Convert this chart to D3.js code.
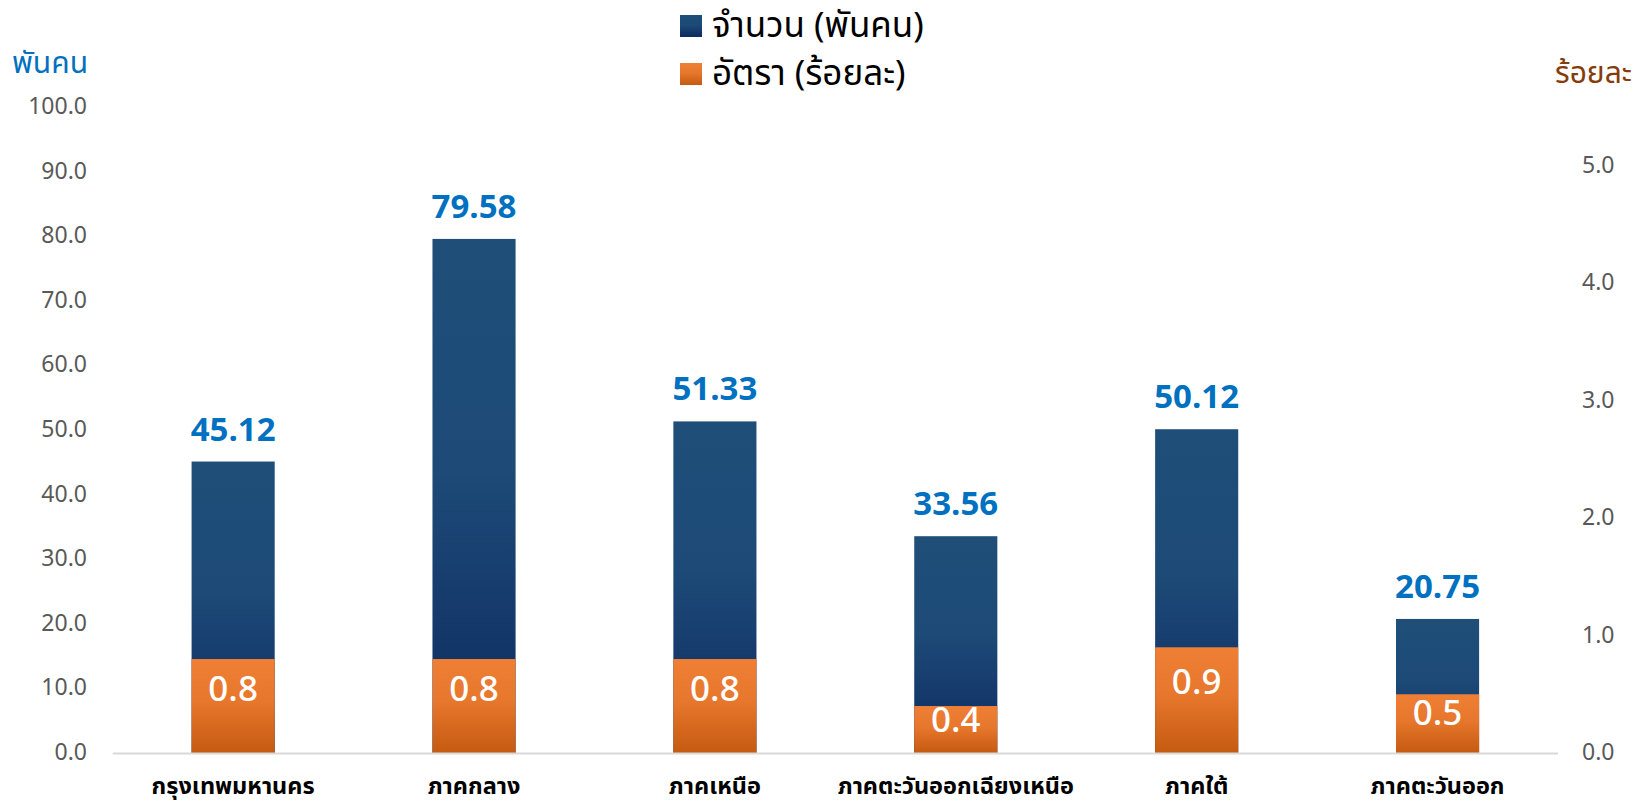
<!DOCTYPE html>
<html>
<head>
<meta charset="utf-8">
<script src="https://cdn.jsdelivr.net/npm/d3@7"></script>
<style>
  html, body { margin: 0; padding: 0; background: #fff; }
  svg { display: block; }
  text { font-family: "Noto Sans Thai", "Noto Sans", "Open Sans", sans-serif; }
</style>
</head>
<body>
<script>
const categories = ["กรุงเทพมหานคร", "ภาคกลาง", "ภาคเหนือ", "ภาคตะวันออกเฉียงเหนือ", "ภาคใต้", "ภาคตะวันออก"];
const counts = [45.12, 79.58, 51.33, 33.56, 50.12, 20.75];
const rates = [0.8, 0.8, 0.8, 0.4, 0.9, 0.5];
const leftTicks = [0, 10, 20, 30, 40, 50, 60, 70, 80, 90, 100];
const rightTicks = [0, 1, 2, 3, 4, 5];
const legendLabels = ["จำนวน (พันคน)", "อัตรา (ร้อยละ)"];
const leftTitle = "พันคน";
const rightTitle = "ร้อยละ";

const W = 1641, H = 801;
const svg = d3.select("body").append("svg").attr("width", W).attr("height", H);

const defs = svg.append("defs");
const gB = defs.append("linearGradient").attr("id", "gBlue").attr("x1", 0).attr("y1", 0).attr("x2", 0).attr("y2", 1);
gB.append("stop").attr("offset", "0%").attr("stop-color", "#1f4e79");
gB.append("stop").attr("offset", "45%").attr("stop-color", "#1d4a77");
gB.append("stop").attr("offset", "100%").attr("stop-color", "#0d2a60");
const gO = defs.append("linearGradient").attr("id", "gOrange").attr("x1", 0).attr("y1", 0).attr("x2", 0).attr("y2", 1);
gO.append("stop").attr("offset", "0%").attr("stop-color", "#ee7f35");
gO.append("stop").attr("offset", "45%").attr("stop-color", "#e7772c");
gO.append("stop").attr("offset", "100%").attr("stop-color", "#c55a11");

const x0 = 112.7, x1 = 1558, yBase = 753, yTop = 107;
const x = d3.scaleBand().domain(categories).range([x0, x1]).paddingInner(0.655).paddingOuter(0.3275);
const yL = d3.scaleLinear().domain([0, 100]).range([yBase, yTop]);
const yR = d3.scaleLinear().domain([0, 5.5]).range([yBase, yTop]);

// left ticks
svg.append("g").selectAll("text").data(leftTicks).join("text")
  .attr("x", 87).attr("y", d => yL(d)).attr("text-anchor", "end")
  .attr("dominant-baseline", "central")
  .attr("fill", "#595959").attr("font-size", 23)
  .text(d => d.toFixed(1));

// right ticks
svg.append("g").selectAll("text").data(rightTicks).join("text")
  .attr("x", 1582).attr("y", d => yR(d)).attr("text-anchor", "start")
  .attr("dominant-baseline", "central")
  .attr("fill", "#595959").attr("font-size", 23)
  .text(d => d.toFixed(1));

// axis titles
svg.append("text").attr("x", 12).attr("y", 64).attr("dominant-baseline", "central")
  .attr("fill", "#0070c0").attr("font-size", 30).text(leftTitle);
svg.append("text").attr("x", 1555).attr("y", 74).attr("dominant-baseline", "central")
  .attr("fill", "#843c0c").attr("font-size", 30).text(rightTitle);

// blue bars
svg.append("g").selectAll("rect").data(counts).join("rect")
  .attr("x", (d, i) => x(categories[i])).attr("width", x.bandwidth())
  .attr("y", d => yL(d)).attr("height", d => yBase - yL(d))
  .attr("fill", "url(#gBlue)");

// orange bars
svg.append("g").selectAll("rect").data(rates).join("rect")
  .attr("x", (d, i) => x(categories[i])).attr("width", x.bandwidth())
  .attr("y", d => yR(d)).attr("height", d => yBase - yR(d))
  .attr("fill", "url(#gOrange)");

// axis line
svg.append("line").attr("x1", x0).attr("x2", x1).attr("y1", yBase + 0.5).attr("y2", yBase + 0.5)
  .attr("stroke", "#d9d9d9").attr("stroke-width", 2);

// blue value labels
svg.append("g").selectAll("text").data(counts).join("text")
  .attr("x", (d, i) => x(categories[i]) + x.bandwidth() / 2)
  .attr("y", d => yL(d) - 21)
  .attr("text-anchor", "middle").attr("fill", "#0070c0")
  .attr("font-size", 33).attr("font-weight", "bold")
  .text(d => d.toFixed(2));

// orange value labels
svg.append("g").selectAll("text").data(rates).join("text")
  .attr("x", (d, i) => x(categories[i]) + x.bandwidth() / 2)
  .attr("y", d => yR(d) + 0.34 * (yBase - yR(d)))
  .attr("text-anchor", "middle").attr("dominant-baseline", "central")
  .attr("fill", "#ffffff").attr("font-size", 35).attr("font-weight", 500)
  .text(d => d.toFixed(1));

// category labels
svg.append("g").selectAll("text").data(categories).join("text")
  .attr("x", d => x(d) + x.bandwidth() / 2).attr("y", 787)
  .attr("text-anchor", "middle").attr("dominant-baseline", "central")
  .attr("fill", "#000").attr("font-size", 23.5).attr("font-weight", "bold")
  .text(d => d);

// legend
const leg = svg.append("g");
const fills = ["url(#gBlue)", "url(#gOrange)"];
const rowsY = [26, 74];
legendLabels.forEach((t, i) => {
  leg.append("rect").attr("x", 680).attr("y", rowsY[i] - 11).attr("width", 22).attr("height", 22).attr("fill", fills[i]);
  leg.append("text").attr("x", 712).attr("y", rowsY[i]).attr("dominant-baseline", "central")
    .attr("fill", "#000").attr("font-size", 35).text(t);
});
</script>
</body>
</html>
